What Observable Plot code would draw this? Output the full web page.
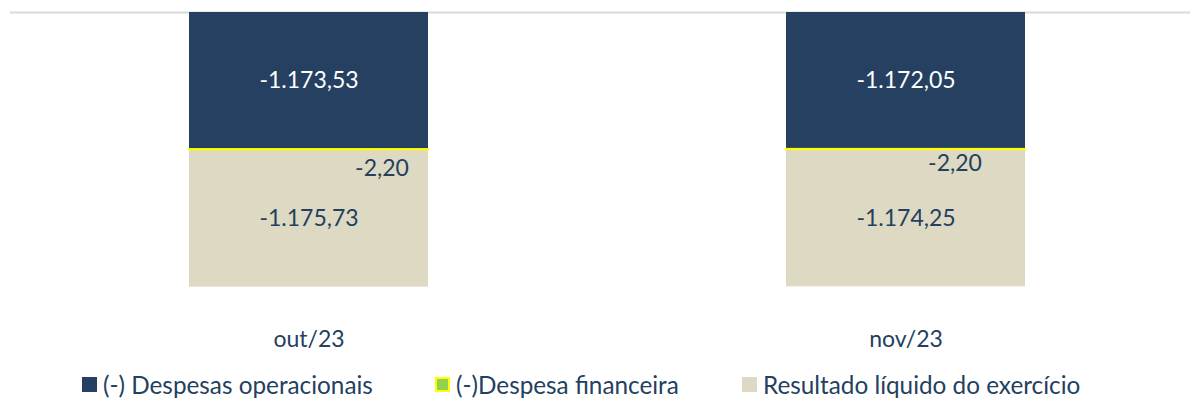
<!DOCTYPE html>
<html>
<head>
<meta charset="utf-8">
<script src="https://cdn.jsdelivr.net/npm/d3@7"></script>
<script src="https://cdn.jsdelivr.net/npm/@observablehq/plot@0.6"></script>
<style>
  body { margin: 0; background: #fff; font-family: Lato, "Open Sans", sans-serif; }
  #chart { position: relative; width: 1190px; height: 402px; }
  .legend { position: absolute; left: 0; top: 370px; width: 1190px; height: 30px; font-size: 24.3px; color: #243F60; white-space: nowrap; }
  .legend .item { position: absolute; top: 0; display: flex; align-items: center; }
  .legend .sw { flex: none; display: inline-block; width: 15px; height: 15px; margin-right: 6px; box-sizing: border-box; }
</style>
</head>
<body>
<div id="chart"></div>
<script>
const categories = ["out/23", "nov/23"];
const seriesNames = ["(-) Despesas operacionais", "(-)Despesa financeira", "Resultado líquido do exercício"];
const despesasOperacionais = [-1173.53, -1172.05];
const despesaFinanceira = [-2.20, -2.20];
const resultadoLiquido = [-1175.73, -1174.25];
const seriesFill = ["#254061", "#92D050", "#DDD9C3"];
const seriesStroke = [null, "#FFFF00", null];

const locale = d3.formatLocale({decimal: ",", thousands: ".", grouping: [3], currency: ["R$", ""], minus: "-"});
const fmt = locale.format(",.2f");

const seriesValues = [despesasOperacionais, despesaFinanceira, resultadoLiquido];
const data = [];
seriesNames.forEach((s, si) => {
  categories.forEach((c, ci) => {
    data.push({cat: c, series: s, value: seriesValues[si][ci], idx: si});
  });
});

const stackOpts = {x: "cat", y: "value", z: "series", order: seriesNames};
const labelFor = (i, cat) => d => d.idx === i && (cat == null || d.cat === cat) ? fmt(d.value) : "";

const plot = Plot.plot({
  width: 1190,
  height: 360,
  marginLeft: 10,
  marginRight: 0,
  marginTop: 12,
  marginBottom: 35,
  style: {fontFamily: "Lato, 'Open Sans', sans-serif", fontSize: "23px", color: "#243F60", background: "#fff"},
  x: {domain: categories, range: [10, 1204], paddingInner: 0.6, paddingOuter: 0.3, label: null},
  y: {domain: [-2500, 0], range: [304, 12], axis: null},
  color: {domain: seriesNames, range: seriesFill},
  opacity: {domain: [0, 1], range: [0, 1]},
  marks: [
    Plot.ruleY([0], {stroke: "#D9D9D9", strokeWidth: 2}),
    Plot.barY(data, Plot.stackY({...stackOpts, fill: "series"})),
    Plot.barY(data, Plot.stackY({...stackOpts, fill: "none", stroke: "#FFFF00", strokeWidth: 2, strokeOpacity: d => d.idx === 1 ? 1 : 0})),
    Plot.text(data, Plot.stackY({...stackOpts, text: labelFor(0), fill: "#FFFFFF", fontSize: 23})),
    Plot.text(data, Plot.stackY({...stackOpts, text: labelFor(1, categories[0]), fill: "#243F60", fontSize: 23, dx: 73, dy: 19})),
    Plot.text(data, Plot.stackY({...stackOpts, text: labelFor(1, categories[1]), fill: "#243F60", fontSize: 23, dx: 49, dy: 14})),
    Plot.text(data, Plot.stackY({...stackOpts, text: labelFor(2), fill: "#243F60", fontSize: 23})),
    Plot.axisX({tickSize: 0, tickPadding: 5, fontSize: 23, fill: "#243F60", label: null})
  ]
});
document.getElementById("chart").appendChild(plot);

const legend = document.createElement("div");
legend.className = "legend";
const legendLeft = [82, 435, 742];
seriesNames.forEach((s, i) => {
  const item = document.createElement("div");
  item.className = "item";
  item.style.left = legendLeft[i] + "px";
  const sw = document.createElement("span");
  sw.className = "sw";
  sw.style.background = seriesFill[i];
  if (seriesStroke[i]) sw.style.border = "2px solid " + seriesStroke[i];
  const t = document.createElement("span");
  t.textContent = s;
  item.appendChild(sw);
  item.appendChild(t);
  legend.appendChild(item);
});
document.getElementById("chart").appendChild(legend);
</script>
</body>
</html>
